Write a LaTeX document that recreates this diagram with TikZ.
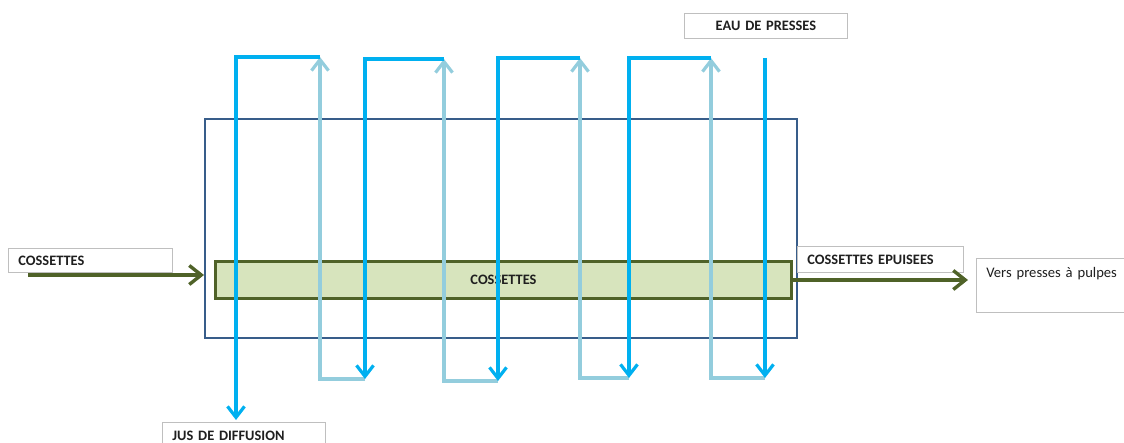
\documentclass[tikz,border=0pt]{standalone}
\usepackage{fontspec}
\setmainfont{Carlito}
\usetikzlibrary{arrows.meta}
\definecolor{framecol}{HTML}{385D8A}
\definecolor{pulpline}{HTML}{4F6228}
\definecolor{pulpfill}{HTML}{D7E4BD}
\definecolor{juice}{HTML}{00B0F0}
\definecolor{water}{HTML}{93CDDD}
\definecolor{tagline}{HTML}{BFBFBF}
\definecolor{ink}{HTML}{1F1F1F}
\begin{document}
\begin{tikzpicture}[x=1pt,y=-1pt,
  tag/.style={draw=tagline, fill=white, line width=0.8pt, anchor=north west,
    inner xsep=10pt, inner ysep=0pt, align=left, text=ink,
    font=\bfseries\fontsize{14.4}{16}\selectfont},
  flowtip/.style={-{Straight Barb[length=11pt,width=17pt]}},
  juiceflow/.style={draw=juice, line width=3.2pt, flowtip},
  waterflow/.style={draw=water, line width=3.2pt, flowtip},
  pulpflow/.style={draw=pulpline, line width=3.4pt,
    -{Straight Barb[length=12pt,width=19pt]}}]
\useasboundingbox (0,0) rectangle (1124,443);

% diffuser body and the cossette bed
\node[draw=framecol, line width=2pt, anchor=north west, inner sep=0pt,
  minimum width=592, minimum height=219] (diffuser) at (204,118) {};
\node[draw=pulpline, fill=pulpfill, line width=3pt, anchor=north west,
  inner sep=0pt, minimum width=576, minimum height=37,
  font=\bfseries\fontsize{14.4}{16}\selectfont, text=ink] (bed) at (214,260) {COSSETTES};

% labels
\node[tag, minimum width=164, minimum height=24, text width=144] (inlab) at (8,248) {COSSETTES};
\node[tag, minimum width=166, minimum height=26, text width=146] (outlab) at (797,246) {COSSETTES EPUISEES};
\node[tag, font=\fontsize{14.6}{16}\selectfont, minimum width=160, text width=140,
  text height=19pt, text depth=35pt] (vers) at (976,258) {Vers presses à pulpes};
\node[tag, align=center, minimum width=163, minimum height=25, text width=143] (eau) at (684,13) {EAU DE PRESSES};
\node[tag, minimum width=163, minimum height=26, text width=143] (jus) at (162,422) {JUS DE DIFFUSION};

% cossettes in and out
\coordinate (cin) at (28,275);
\draw[pulpflow] (cin) -- (cin -| diffuser.west);
\draw[pulpflow, shorten >=8pt] (bed.east) -- (bed.east -| vers.west);

% corner points of the counter-current circuit
\coordinate (d1t) at (236,57);  \coordinate (l1t) at (320,57);
\coordinate (d2t) at (365,59);  \coordinate (l2t) at (444,59);
\coordinate (d3t) at (498,58);  \coordinate (l3t) at (580,58);
\coordinate (d4t) at (629,58);  \coordinate (l4t) at (711,58);
\coordinate (d5t) at (765,58);
\coordinate (l1b) at (320,379); \coordinate (d2b) at (365,379);
\coordinate (l2b) at (444,381); \coordinate (d3b) at (498,381);
\coordinate (l3b) at (580,378); \coordinate (d4b) at (629,378);
\coordinate (l4b) at (711,378); \coordinate (d5b) at (765,378);

% rising legs
\draw[waterflow] (d2b) -- (l1b) -- (l1t);
\draw[waterflow] (d3b) -- (l2b) -- (l2t);
\draw[waterflow] (d4b) -- (l3b) -- (l3t);
\draw[waterflow] (d5b) -- (l4b) -- (l4t);

% falling legs
\draw[juiceflow, shorten >=2pt] (l1t) -- (d1t) -- (d1t |- jus.north);
\draw[juiceflow] (l2t) -- (d2t) -- (d2b);
\draw[juiceflow] (l3t) -- (d3t) -- (d3b);
\draw[juiceflow] (l4t) -- (d4t) -- (d4b);
\draw[juiceflow] (d5t) -- (d5b);
\end{tikzpicture}
\end{document}
